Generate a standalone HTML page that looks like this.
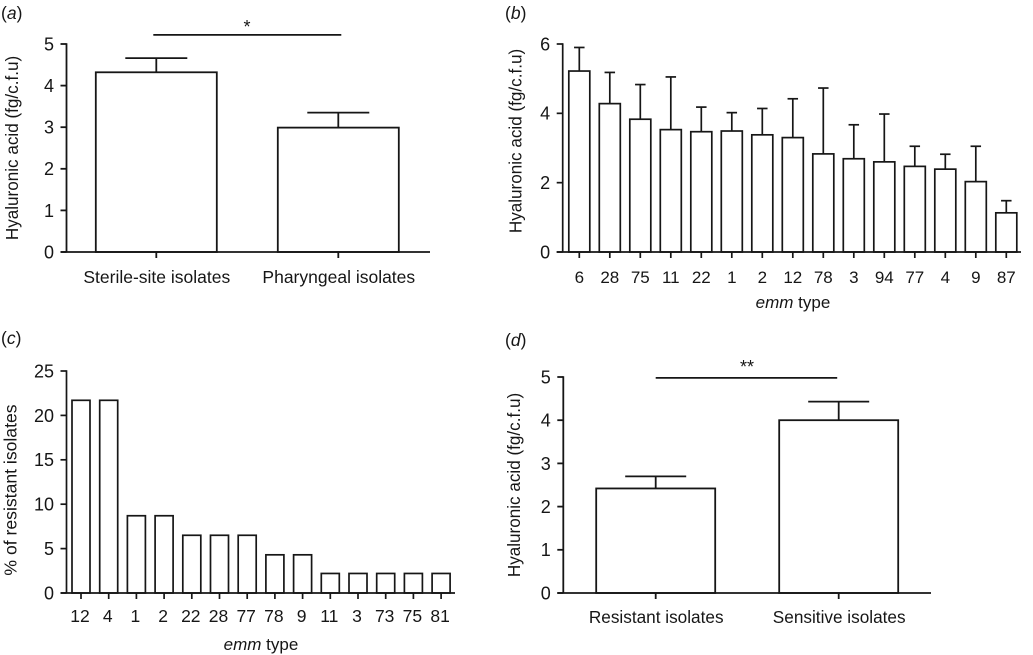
<!DOCTYPE html>
<html lang="en">
<head>
<meta charset="utf-8">
<title>Hyaluronic acid charts</title>
<style>
html,body{margin:0;padding:0;background:#fff;}
body{width:1033px;height:655px;overflow:hidden;}
svg{display:block;}
text{font-family:"Liberation Sans",Arial,sans-serif;fill:#161616;font-size:17px;}
</style>
</head>
<body>
<svg id="figure" width="1033" height="655" viewBox="0 0 1033 655" xmlns="http://www.w3.org/2000/svg"></svg>
<script>
const aCategories = ["Sterile-site isolates", "Pharyngeal isolates"];
const aValues = [4.32, 2.99];
const aErrorTops = [4.66, 3.35];
const aTicks = [0, 1, 2, 3, 4, 5];

const bCategories = ["6", "28", "75", "11", "22", "1", "2", "12", "78", "3", "94", "77", "4", "9", "87"];
const bValues = [5.22, 4.28, 3.83, 3.53, 3.47, 3.49, 3.38, 3.30, 2.83, 2.69, 2.60, 2.47, 2.39, 2.03, 1.13];
const bErrorTops = [5.90, 5.18, 4.83, 5.05, 4.18, 4.02, 4.14, 4.42, 4.73, 3.67, 3.98, 3.05, 2.82, 3.05, 1.48];
const bTicks = [0, 2, 4, 6];

const cCategories = ["12", "4", "1", "2", "22", "28", "77", "78", "9", "11", "3", "73", "75", "81"];
const cValues = [21.7, 21.7, 8.7, 8.7, 6.5, 6.5, 6.5, 4.3, 4.3, 2.2, 2.2, 2.2, 2.2, 2.2];
const cTicks = [0, 5, 10, 15, 20, 25];

const dCategories = ["Resistant isolates", "Sensitive isolates"];
const dValues = [2.42, 4.00];
const dErrorTops = [2.70, 4.43];
const dTicks = [0, 1, 2, 3, 4, 5];

const NS = "http://www.w3.org/2000/svg";
const figure = document.getElementById("figure");
const INK = "#161616";

function addGroup(parent, name) {
  const el = document.createElementNS(NS, "g");
  
  
  parent.appendChild(el);
  return el;
}

function addLine(parent, name, x1, y1, x2, y2, width) {
  const el = document.createElementNS(NS, "line");
  
  
  el.setAttribute("x1", x1);
  el.setAttribute("y1", y1);
  el.setAttribute("x2", x2);
  el.setAttribute("y2", y2);
  el.setAttribute("stroke", INK);
  el.setAttribute("stroke-width", width);
  parent.appendChild(el);
  return el;
}

function addBar(parent, name, x, y, w, h, width) {
  const el = document.createElementNS(NS, "rect");
  
  
  el.setAttribute("x", x);
  el.setAttribute("y", y);
  el.setAttribute("width", w);
  el.setAttribute("height", h);
  el.setAttribute("fill", "#fff");
  el.setAttribute("stroke", INK);
  el.setAttribute("stroke-width", width);
  parent.appendChild(el);
  return el;
}

function addText(parent, name, content, x, y, anchor, size) {
  const el = document.createElementNS(NS, "text");
  
  
  el.setAttribute("x", x);
  el.setAttribute("y", y);
  el.setAttribute("text-anchor", anchor);
  if (size) el.style.fontSize = size + "px";
  el.textContent = content;
  parent.appendChild(el);
  return el;
}

function addRotatedTitle(parent, name, content, x, y, size) {
  const el = addText(parent, name, content, 0, 0, "middle", size);
  el.setAttribute("transform", "translate(" + x + "," + y + ") rotate(-90)");
  return el;
}

function addItalicLead(parent, name, lead, rest, x, y) {
  const el = addText(parent, name, "", x, y, "middle", 17);
  const span = document.createElementNS(NS, "tspan");
  span.setAttribute("font-style", "italic");
  span.textContent = lead;
  el.appendChild(span);
  el.appendChild(document.createTextNode(rest));
  return el;
}

function addPanelLetter(parent, name, letter, x, y) {
  const el = addText(parent, name, "(", x, y, "start", 17.5);
  const span = document.createElementNS(NS, "tspan");
  span.setAttribute("font-style", "italic");
  span.textContent = letter;
  el.appendChild(span);
  el.appendChild(document.createTextNode(")"));
  return el;
}

function drawPanel(key, o) {
  const g = addGroup(figure, "panel-" + key);
  const yMax = o.ticks[o.ticks.length - 1];
  const yScale = v => o.y0 - (o.y0 - o.yTop) * v / yMax;
  const xScale = i => o.firstX + o.step * i;

  o.categories.forEach((cat, i) => {
    const cx = xScale(i);
    if (o.errorTops) {
      addLine(g, "error-stem-" + key + "-" + (i + 1), cx, yScale(o.values[i]), cx, yScale(o.errorTops[i]), o.sw);
      addLine(g, "error-cap-" + key + "-" + (i + 1), cx - o.capW / 2, yScale(o.errorTops[i]), cx + o.capW / 2, yScale(o.errorTops[i]), o.sw);
    }
    addBar(g, "bar-" + key + "-" + (i + 1), cx - o.barW / 2, yScale(o.values[i]), o.barW, o.y0 - yScale(o.values[i]), o.sw);
    addLine(g, "x-tick-" + key + "-" + (i + 1), cx, o.y0, cx, o.y0 + 6, o.sw);
    addText(g, "x-label-" + key + "-" + (i + 1), cat, cx + (o.labelDx || 0), o.labelY, "middle", o.labelSize);
  });

  addLine(g, "y-axis-" + key, o.axisX, o.yTop - 0.8, o.axisX, o.y0, o.sw);
  addLine(g, "x-axis-" + key, o.axisX - 6, o.y0, o.xEnd, o.y0, o.sw);

  o.ticks.forEach(t => {
    addLine(g, "y-tick-" + key + "-" + t, o.axisX - 6, yScale(t), o.axisX, yScale(t), o.sw);
    addText(g, "y-label-" + key + "-" + t, String(t), o.axisX - 12.5, yScale(t) + 6.4, "end", 18);
  });

  addRotatedTitle(g, "y-axis-title-" + key, o.yTitle, o.titleX, o.titleY, o.titleSize);
  addPanelLetter(g, "panel-label-" + key, key, o.letterX, o.letterY);

  if (o.xTitleX) addItalicLead(g, "x-axis-title-" + key, "emm", " type", o.xTitleX, o.xTitleY);

  if (o.sig) {
    const sy = yScale(o.sig.level);
    addLine(g, "significance-line-" + key, xScale(0) + o.sig.dx1, sy, xScale(1) + o.sig.dx2, sy, o.sw);
    addText(g, "significance-marker-" + key, o.sig.mark, o.sig.markX, o.sig.markY, "middle", 18);
  }
}

drawPanel("a", {
  categories: aCategories, values: aValues, errorTops: aErrorTops, ticks: aTicks,
  y0: 252, yTop: 44, firstX: 156.3, step: 182, barW: 121, capW: 62, sw: 1.8,
  axisX: 66.5, xEnd: 430, labelY: 283, labelDx: 0.5, labelSize: 17.5,
  yTitle: "Hyaluronic acid (fg/c.f.u)", titleX: 18, titleY: 148, titleSize: 17.1,
  letterX: 1, letterY: 19,
  sig: { level: 5.22, dx1: -3, dx2: 3, mark: "*", markX: 247, markY: 33 }
});

drawPanel("b", {
  categories: bCategories, values: bValues, errorTops: bErrorTops, ticks: bTicks,
  y0: 252, yTop: 44, firstX: 579.3, step: 30.5, barW: 21, capW: 10.5, sw: 1.7,
  axisX: 562.7, xEnd: 1021, labelY: 283, labelSize: 17,
  yTitle: "Hyaluronic acid (fg/c.f.u)", titleX: 521.5, titleY: 141, titleSize: 17.1,
  letterX: 505, letterY: 19,
  xTitleX: 793, xTitleY: 308
});

drawPanel("c", {
  categories: cCategories, values: cValues, ticks: cTicks,
  y0: 593, yTop: 371, firstX: 81, step: 27.7, barW: 18, capW: 0, sw: 1.7,
  axisX: 66.5, xEnd: 455, labelY: 622, labelDx: -1, labelSize: 17.5,
  yTitle: "% of resistant isolates", titleX: 16.5, titleY: 490, titleSize: 17.6,
  letterX: 1, letterY: 344,
  xTitleX: 261, xTitleY: 650
});

drawPanel("d", {
  categories: dCategories, values: dValues, errorTops: dErrorTops, ticks: dTicks,
  y0: 593, yTop: 377, firstX: 655.7, step: 183, barW: 119, capW: 61, sw: 1.8,
  axisX: 563.3, xEnd: 931, labelY: 623, labelDx: 0.5, labelSize: 17.2,
  yTitle: "Hyaluronic acid (fg/c.f.u)", titleX: 520, titleY: 485, titleSize: 17.1,
  letterX: 505, letterY: 346,
  sig: { level: 4.98, dx1: 0, dx2: -1.5, mark: "**", markX: 747, markY: 373 }
});
</script>
</body>
</html>
